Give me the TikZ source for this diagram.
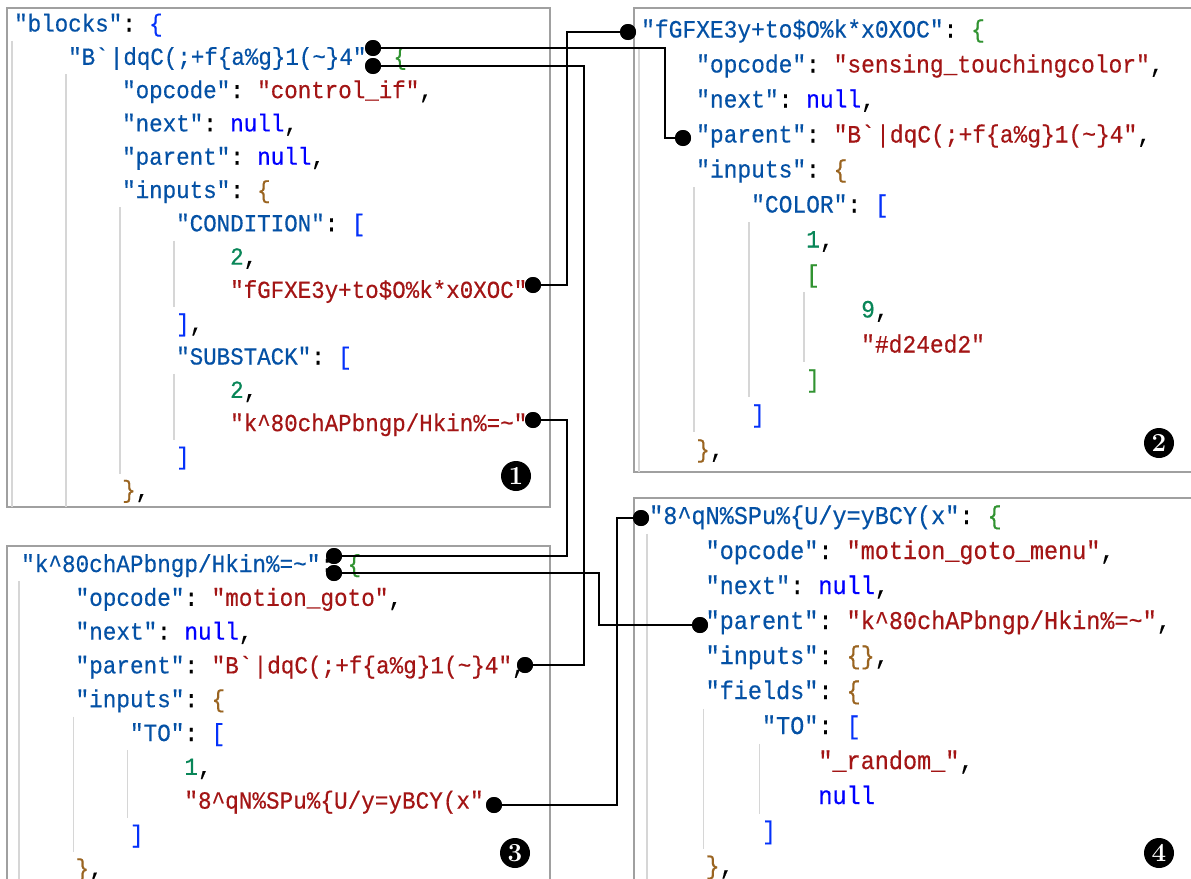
\documentclass[tikz,border=0pt]{standalone}
\usepackage{fontspec}
\setmonofont{Liberation Mono}[FakeStretch=0.92,FakeBold=0.4]

% editor token colours
\definecolor{keyc}{HTML}{0451A5}
\definecolor{strc}{HTML}{A31515}
\definecolor{nullc}{HTML}{0000FF}
\definecolor{numc}{HTML}{098658}
\definecolor{brA}{HTML}{0431FA}
\definecolor{brB}{HTML}{319331}
\definecolor{brC}{HTML}{9A6420}
\definecolor{panelgray}{HTML}{A0A0A0}
\definecolor{guidegray}{HTML}{D6D6D6}

\newcommand\tkey[1]{\textcolor{keyc}{#1}}
\newcommand\tstr[1]{\textcolor{strc}{#1}}
\newcommand\tnul[1]{\textcolor{nullc}{#1}}
\newcommand\tnum[1]{\textcolor{numc}{#1}}
\newcommand\bra[1]{\textcolor{brA}{#1}}
\newcommand\brb[1]{\textcolor{brB}{#1}}
\newcommand\brc[1]{\textcolor{brC}{#1}}

% one line of code: name, column, row, content
\newcommand\codeline[4]{\node[code] (#1) at ({\xo+#2*\cwd},{\yo+#3*\lsp}) {#4};}
% indent guide: column, first row, last row
\newcommand\guide[3]{\draw[guide] ({\xo+#1*\cwd-2},{\yo+#2*\lsp-0.72*\lsp}) -- ({\xo+#1*\cwd-2},{\yo+#3*\lsp+0.28*\lsp});}
% indent guide running to a given bottom: column, first row, bottom y
\newcommand\guidedown[3]{\draw[guide] ({\xo+#1*\cwd-2},{\yo+#2*\lsp-0.72*\lsp}) -- ({\xo+#1*\cwd-2},#3);}

\begin{document}
\begin{tikzpicture}[x=1pt,y=-1pt,
  panel/.style={draw=panelgray, line width=1.4},
  guide/.style={draw=guidegray, line width=1.2},
  code/.style={anchor=base west, inner sep=0pt, font=\ttfamily\fontsize{\fsz}{\fsz}\selectfont},
  dot/.style={circle, fill=black, inner sep=0pt, minimum size=16},
  wire/.style={draw=black, line width=2.8},
  badge/.style={circle, fill=black, text=white, inner sep=0pt, minimum size=30,
                font=\rmfamily\bfseries\fontsize{26}{26}\selectfont}]

\useasboundingbox (0,0) rectangle (1191,878);
\clip (0,0) rectangle (1191,878);
\fill[white] (0,0) rectangle (1191,878);

% ---------- block 1 : control_if ----------
\draw[panel] (7,8) rectangle (550,507);
\begin{scope}
\def\xo{14}\def\yo{31.5}\def\cwd{13.5}\def\lsp{33.3}\def\fsz{24.46}
\guidedown{0}{1}{507}
\guidedown{4}{2}{507}
\guide{8}{6}{13}
\guide{12}{7}{8}
\guide{12}{11}{12}
\codeline{a0}{0}{0}{\tkey{"blocks"}: \bra{\{}}
\codeline{a1}{4}{1}{\tkey{"B\textasciigrave\textbar dqC(;+f\{a\%g\}1(\textasciitilde\}4"}: \brb{\{}}
\codeline{a2}{8}{2}{\tkey{"opcode"}: \tstr{"control\_if"},}
\codeline{a3}{8}{3}{\tkey{"next"}: \tnul{null},}
\codeline{a4}{8}{4}{\tkey{"parent"}: \tnul{null},}
\codeline{a5}{8}{5}{\tkey{"inputs"}: \brc{\{}}
\codeline{a6}{12}{6}{\tkey{"CONDITION"}: \bra{[}}
\codeline{a7}{16}{7}{\tnum{2},}
\codeline{a8}{16}{8}{\tstr{"fGFXE3y+to\$O\%k*x0XOC"}}
\codeline{a9}{12}{9}{\bra{]},}
\codeline{a10}{12}{10}{\tkey{"SUBSTACK"}: \bra{[}}
\codeline{a11}{16}{11}{\tnum{2},}
\codeline{a12}{16}{12}{\tstr{"k\textasciicircum 80chAPbngp/Hkin\%=\textasciitilde"}}
\codeline{a13}{12}{13}{\bra{]}}
\codeline{a14}{8}{14}{\brc{\}},}
\end{scope}

% ---------- block 2 : sensing_touchingcolor ----------
\draw[panel] (634,8) rectangle (1200,472);
\begin{scope}
\def\xo{641}\def\yo{37.5}\def\cwd{13.75}\def\lsp{35}\def\fsz{24.9}
\guidedown{0}{1}{472}
\guide{4}{5}{11}
\guide{8}{6}{10}
\guide{12}{8}{9}
\codeline{b0}{0}{0}{\tkey{"fGFXE3y+to\$O\%k*x0XOC"}: \brb{\{}}
\codeline{b1}{4}{1}{\tkey{"opcode"}: \tstr{"sensing\_touchingcolor"},}
\codeline{b2}{4}{2}{\tkey{"next"}: \tnul{null},}
\codeline{b3}{4}{3}{\tkey{"parent"}: \tstr{"B\textasciigrave\textbar dqC(;+f\{a\%g\}1(\textasciitilde\}4"},}
\codeline{b4}{4}{4}{\tkey{"inputs"}: \brc{\{}}
\codeline{b5}{8}{5}{\tkey{"COLOR"}: \bra{[}}
\codeline{b6}{12}{6}{\tnum{1},}
\codeline{b7}{12}{7}{\brb{[}}
\codeline{b8}{16}{8}{\tnum{9},}
\codeline{b9}{16}{9}{\tstr{"\#d24ed2"}}
\codeline{b10}{12}{10}{\brb{]}}
\codeline{b11}{8}{11}{\bra{]}}
\codeline{b12}{4}{12}{\brc{\}},}
\end{scope}

% ---------- block 3 : motion_goto ----------
\draw[panel] (7,546) rectangle (550,900);
\begin{scope}
\def\xo{21}\def\yo{572}\def\cwd{13.6}\def\lsp{33.8}\def\fsz{24.64}
\guidedown{0}{1}{900}
\guide{4}{5}{8}
\guide{8}{6}{7}
\codeline{c0}{0}{0}{\tkey{"k\textasciicircum 80chAPbngp/Hkin\%=\textasciitilde"}: \brb{\{}}
\codeline{c1}{4}{1}{\tkey{"opcode"}: \tstr{"motion\_goto"},}
\codeline{c2}{4}{2}{\tkey{"next"}: \tnul{null},}
\codeline{c3}{4}{3}{\tkey{"parent"}: \tstr{"B\textasciigrave\textbar dqC(;+f\{a\%g\}1(\textasciitilde\}4"},}
\codeline{c4}{4}{4}{\tkey{"inputs"}: \brc{\{}}
\codeline{c5}{8}{5}{\tkey{"TO"}: \bra{[}}
\codeline{c6}{12}{6}{\tnum{1},}
\codeline{c7}{12}{7}{\tstr{"8\textasciicircum qN\%SPu\%\{U/y=yBCY(x"}}
\codeline{c8}{8}{8}{\bra{]}}
\codeline{c9}{4}{9}{\brc{\}},}
\end{scope}

% ---------- block 4 : motion_goto_menu ----------
\draw[panel] (634,498) rectangle (1200,900);
\begin{scope}
\def\xo{649}\def\yo{524}\def\cwd{14.1}\def\lsp{35}\def\fsz{25.54}
\guidedown{0}{1}{900}
\guide{4}{6}{9}
\guide{8}{7}{8}
\codeline{d0}{0}{0}{\tkey{"8\textasciicircum qN\%SPu\%\{U/y=yBCY(x"}: \brb{\{}}
\codeline{d1}{4}{1}{\tkey{"opcode"}: \tstr{"motion\_goto\_menu"},}
\codeline{d2}{4}{2}{\tkey{"next"}: \tnul{null},}
\codeline{d3}{4}{3}{\tkey{"parent"}: \tstr{"k\textasciicircum 80chAPbngp/Hkin\%=\textasciitilde"},}
\codeline{d4}{4}{4}{\tkey{"inputs"}: \brc{\{\}},}
\codeline{d5}{4}{5}{\tkey{"fields"}: \brc{\{}}
\codeline{d6}{8}{6}{\tkey{"TO"}: \bra{[}}
\codeline{d7}{12}{7}{\tstr{"\_random\_"},}
\codeline{d8}{12}{8}{\tnul{null}}
\codeline{d9}{8}{9}{\bra{]}}
\codeline{d10}{4}{10}{\brc{\}},}
\end{scope}

% ---------- reference end points ----------
\node[dot] (idA)    at (373,48)  {};
\node[dot] (idB)    at (373,66)  {};
\node[dot] (condv)  at (533,285) {};
\node[dot] (subv)   at (533,420) {};
\node[dot] (colid)  at (628,32)  {};
\node[dot] (colpar) at (683,138) {};
\node[dot] (gotoA)  at (334,556) {};
\node[dot] (gotoB)  at (334,573) {};
\node[dot] (gotopar) at (525,665) {};
\node[dot] (tov)    at (494,805) {};
\node[dot] (menuid) at (641,518) {};
\node[dot] (menupar) at (700,625) {};

% vertical runs of the links
\coordinate (busA) at (665,0);
\coordinate (busB) at (567,0);
\coordinate (busC) at (584,0);
\coordinate (busD) at (567,0);
\coordinate (busE) at (599,0);
\coordinate (busF) at (617,0);

\draw[wire] (idA.center) -- (idA.center -| busA) -- (colpar.center -| busA) -- (colpar.center);
\draw[wire] (condv.center) -- (condv.center -| busB) -- (colid.center -| busB) -- (colid.center);
\draw[wire] (idB.center) -- (idB.center -| busC) -- (gotopar.center -| busC) -- (gotopar.center);
\draw[wire] (subv.center) -- (subv.center -| busD) -- (gotoA.center -| busD) -- (gotoA.center);
\draw[wire] (gotoB.center) -- (gotoB.center -| busE) -- (menupar.center -| busE) -- (menupar.center);
\draw[wire] (tov.center) -- (tov.center -| busF) -- (menuid.center -| busF) -- (menuid.center);

% redraw the end points above the wires
\foreach \p in {idA,idB,condv,subv,colid,colpar,gotoA,gotoB,gotopar,tov,menuid,menupar}
  \fill (\p) circle (8);

% ---------- block numbers ----------
\node[badge] (n1) at (516,476) {1};
\node[badge] (n2) at (1159,443) {2};
\node[badge] (n3) at (515,853) {3};
\node[badge] (n4) at (1159,853) {4};
\end{tikzpicture}
\end{document}
